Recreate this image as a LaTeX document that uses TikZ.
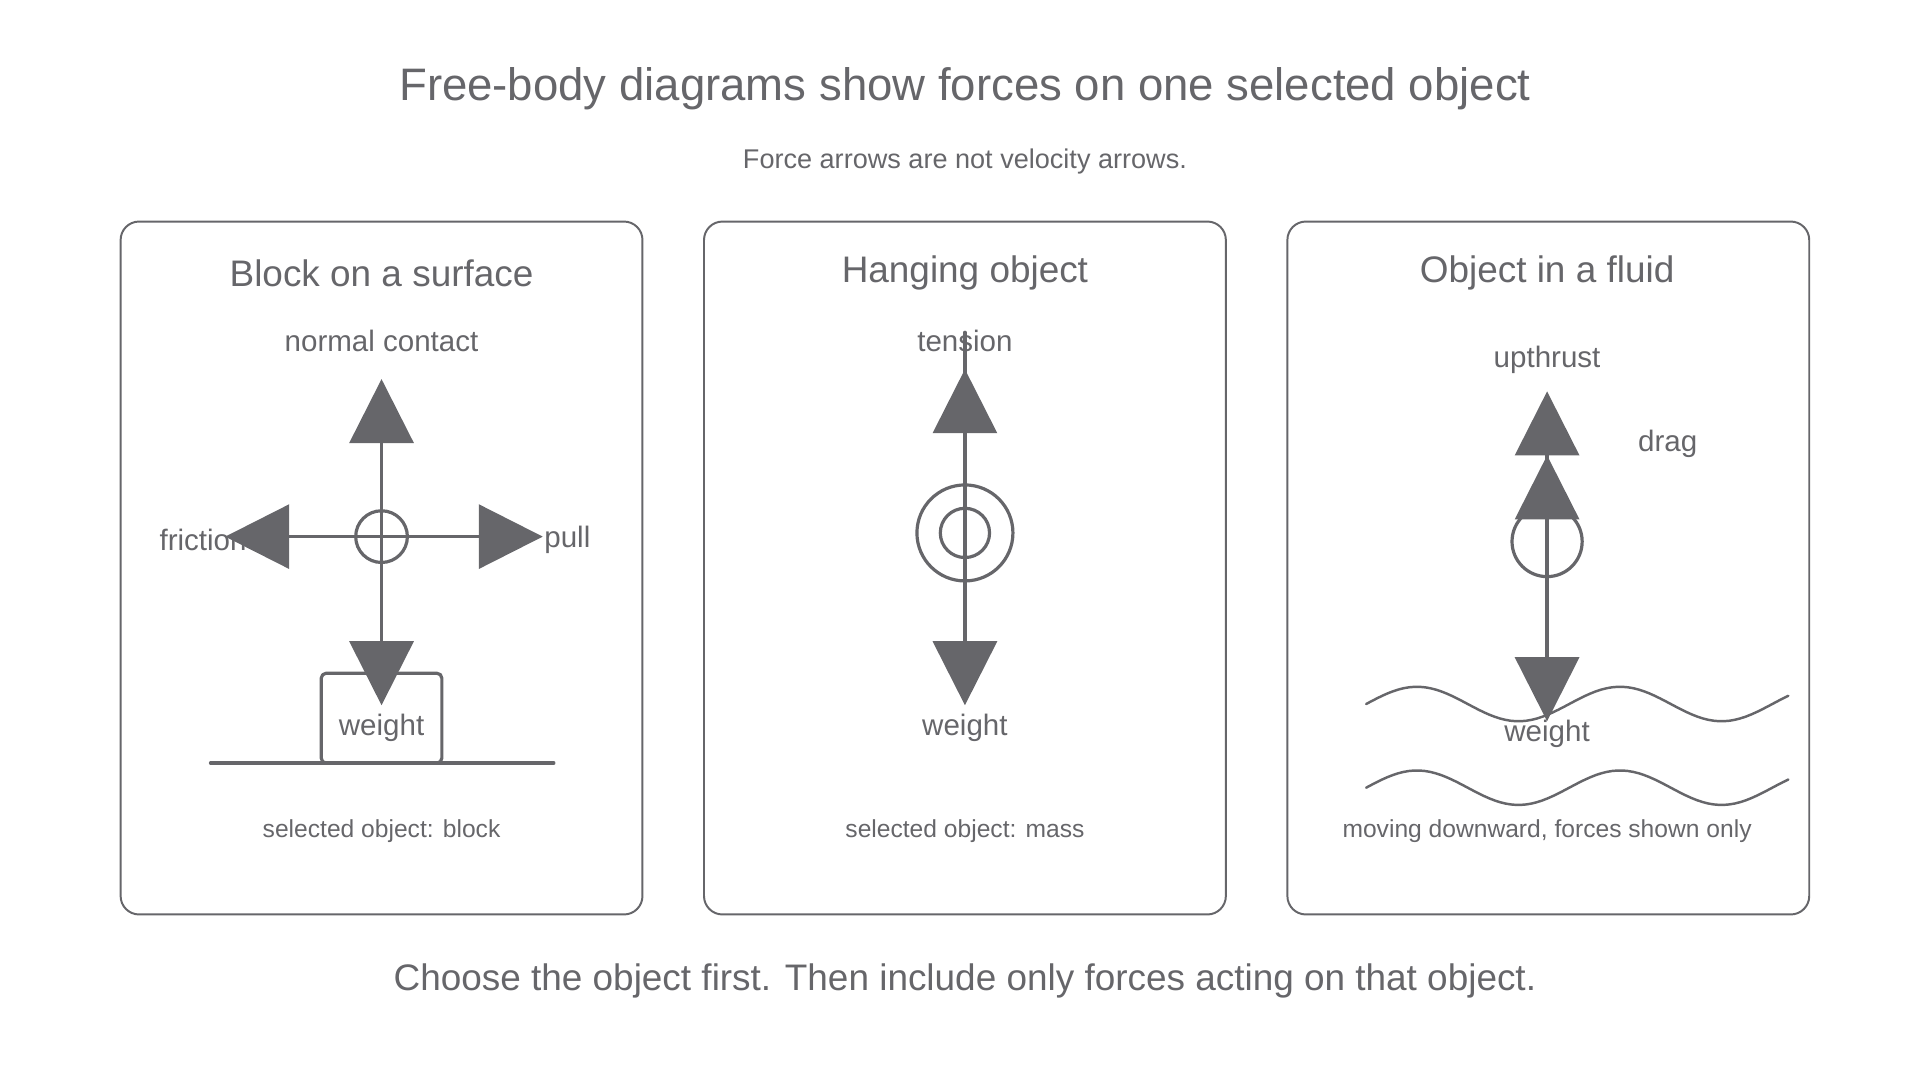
\documentclass[tikz,border=0pt]{standalone}
\usepackage{fontspec}
\setmainfont{Liberation Sans}
\usetikzlibrary{arrows.meta}
\definecolor{ink}{HTML}{66666A}
\tikzset{
  panel/.style={draw=ink, line width=1.6pt, rounded corners=15pt},
  force/.style={draw=ink, line width=2.6pt, -{Triangle[length=52pt,width=52pt]}},
  lbl/.style={text=ink, font=\fontsize{24}{28}\selectfont},
  caption/.style={text=ink, font=\fontsize{20}{24}\selectfont},
  ptitle/.style={text=ink, font=\fontsize{30}{34}\selectfont},
}
\begin{document}
\begin{tikzpicture}[x=1pt,y=-1pt, line join=round, line cap=round]
  \useasboundingbox (0,0) rectangle (1560,878);
  \node[text=ink, font=\fontsize{37}{42}\selectfont] (title) at (784,72) {Free-body diagrams show forces on one selected object};
  \node[text=ink, font=\fontsize{22}{26}\selectfont] (sub) at (784,131) {Force arrows are not velocity arrows.};
  \draw[panel] (98,180) rectangle (522,743);
  \draw[panel] (572,180) rectangle (996,743);
  \draw[panel] (1046,180) rectangle (1470,743);
  \node[ptitle] (t1) at (310,222) {Block on a surface};
  \node[ptitle] (t2) at (784,222) {Hanging object};
  \node[ptitle] (t3) at (1257,222) {Object in a fluid};
  % block on a surface
  \node[lbl] (normal) at (310,277) {normal contact};
  \node[lbl] (friction) at (165,439) {friction};
  \node[lbl] (pull) at (461,439) {pull};
  \draw[draw=ink, line width=2.6pt] (171,620) -- (450,620);
  \node[draw=ink, line width=2.6pt, rounded corners=4pt, minimum width=98pt, minimum height=73pt] (block) at (310,583.5) {};
  \node[lbl] (w1) at (310,591) {weight};
  \node[circle, draw=ink, line width=2.6pt, minimum size=42pt, inner sep=0] (o1) at (310,436) {};
  \coordinate (n1) at (310,308);
  \coordinate (f1) at (183,436);
  \coordinate (p1) at (441,436);
  \coordinate (g1) at (310,573);
  \draw[force] (o1.center) -- (n1);
  \draw[force] (o1.center) -- (f1);
  \draw[force] (o1.center) -- (p1);
  \draw[force] (o1.center) -- (g1);
  \node[caption] (c1) at (310,675) {selected object: block};
  % hanging object
  \node[lbl] (tension) at (784,277) {tension};
  \node[circle, draw=ink, line width=2.6pt, minimum size=78pt, inner sep=0] (o2) at (784,433) {};
  \node[circle, draw=ink, line width=2.6pt, minimum size=40pt, inner sep=0] (o2in) at (784,433) {};
  \coordinate (top2) at (784,270);
  \coordinate (n2) at (784,300);
  \coordinate (g2) at (784,573);
  \draw[draw=ink, line width=2.6pt] (o2.center) -- (top2);
  \draw[force] (o2.center) -- (n2);
  \draw[force] (o2.center) -- (g2);
  \node[lbl] (w2) at (784,591) {weight};
  \node[caption] (c2) at (784,675) {selected object: mass};
  % object in a fluid
  \node[lbl] (upthrust) at (1257,292) {upthrust};
  \node[lbl] (drag) at (1355,361) {drag};
  \draw[ink, line width=2pt] plot[domain=1110:1453, samples=80] (\x,{572-14*sin((\x-1110)/165*360)});
  \draw[ink, line width=2pt] plot[domain=1110:1453, samples=80] (\x,{640-14*sin((\x-1110)/165*360)});
  \node[circle, draw=ink, line width=2.6pt, minimum size=57pt, inner sep=0] (o3) at (1257,440) {};
  \coordinate (u3) at (1257,318);
  \coordinate (d3) at (1257,370);
  \coordinate (g3) at (1257,586);
  \draw[force] (o3.center) -- (u3);
  \draw[force] (o3.center) -- (d3);
  \draw[force] (o3.center) -- (g3);
  \node[lbl] (w3) at (1257,596) {weight};
  \node[caption] (c3) at (1257,675) {moving downward, forces shown only};
  \node[text=ink, font=\fontsize{30}{34}\selectfont] (foot) at (784,797) {Choose the object first. Then include only forces acting on that object.};
\end{tikzpicture}
\end{document}
